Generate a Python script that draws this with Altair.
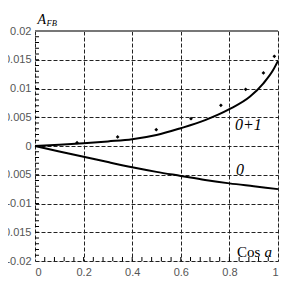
import altair as alt
import pandas as pd

# Curve "0+1"
c01_x = [0.0, 0.1, 0.2, 0.3, 0.4, 0.5, 0.6, 0.7, 0.8, 0.885, 0.94, 0.98, 1.0]
c01_y = [0.0, 0.0002, 0.00047, 0.0008, 0.00117, 0.0019, 0.0031, 0.0045, 0.0064, 0.0086, 0.0109, 0.0132, 0.0148]
# Curve "0"
c0_x = [0.0, 0.1, 0.2, 0.3, 0.4, 0.5, 0.6, 0.7, 0.8, 0.9, 1.0]
c0_y = [0.0, -0.00095, -0.00186, -0.0028, -0.0037, -0.0045, -0.0052, -0.0059, -0.0065, -0.007, -0.0075]
# Data points
pts_x = [0.173, 0.34, 0.499, 0.642, 0.765, 0.867, 0.94, 0.985]
pts_y = [0.00057, 0.00157, 0.00283, 0.00475, 0.00708, 0.00986, 0.0127, 0.0156]

x_ticks = [0, 0.2, 0.4, 0.6, 0.8, 1]
y_ticks = [-0.02, -0.015, -0.01, -0.005, 0, 0.005, 0.01, 0.015, 0.02]
x_minor = [0.04, 0.08, 0.12, 0.16, 0.2, 0.24, 0.28, 0.32, 0.36, 0.4, 0.44, 0.48, 0.52,
           0.56, 0.6, 0.64, 0.68, 0.72, 0.76, 0.8, 0.84, 0.88, 0.92, 0.96]
y_minor = [round(-0.019 + 0.001 * i, 4) for i in range(39)]

W, H = 243, 230

curves = pd.DataFrame({"x": c01_x + c0_x,
                       "y": c01_y + c0_y,
                       "s": ["0+1"] * len(c01_x) + ["0"] * len(c0_x)})
pts = pd.DataFrame({"x": pts_x, "y": pts_y})

xs = alt.Scale(domain=[0, 1], nice=False, zero=False)
ys = alt.Scale(domain=[-0.02, 0.02], nice=False, zero=False)

xax = alt.Axis(values=x_ticks, grid=True, gridDash=[4, 2], gridColor="#222", gridWidth=1,
               ticks=False, domain=False, labelExpr="toString(datum.value)",
               labelFont="Liberation Sans", labelFontSize=11, labelColor="#555",
               labelPadding=5, labelOverlap=False, title=None)
yax = alt.Axis(values=y_ticks, grid=True, gridDash=[4, 2], gridColor="#222", gridWidth=1,
               ticks=False, domain=False, labelExpr="toString(datum.value)",
               labelFont="Liberation Sans", labelFontSize=11, labelColor="#555",
               labelPadding=4, labelOverlap=False, labelBound=False, title=None)

X = lambda: alt.X("x:Q", scale=xs, axis=xax)
Y = lambda: alt.Y("y:Q", scale=ys, axis=yax)

lines = alt.Chart(curves).mark_line(color="black", strokeWidth=2, interpolate="monotone").encode(
    x=X(), y=Y(), detail="s:N")

dots = alt.Chart(pts).mark_point(shape="diamond", filled=True, color="black", size=14, opacity=1).encode(
    x=X(), y=Y())

xm = alt.Chart(pd.DataFrame({"x": x_minor})).mark_rule(color="black", strokeWidth=1).encode(
    x=X(), y=alt.value(H - 4), y2=alt.value(H))
ym = alt.Chart(pd.DataFrame({"y": y_minor})).mark_rule(color="black", strokeWidth=1).encode(
    y=Y(), x=alt.value(0), x2=alt.value(4))

top_border = alt.Chart(pts).mark_rule(color="#777", strokeWidth=2).encode(
    x=alt.value(0), x2=alt.value(W), y=alt.value(0))


def label(txt, px, py, size, style="italic"):
    return alt.Chart(pd.DataFrame({"t": [txt]})).mark_text(
        font="Liberation Serif", fontStyle=style, fontSize=size, align="left",
        baseline="alphabetic", color="black").encode(
        text="t:N", x=alt.value(px), y=alt.value(py))


texts = [
    label("A", 2.5, -7, 14),
    label("FB", 11.5, -5, 8.5),
    label("0+1", 200, 99, 16),
    label("0", 201, 144, 16),
    label("Cos", 202, 225.5, 15, "normal"),
    label("a", 229.5, 225.5, 15),
]

chart = alt.layer(lines, dots, xm, ym, top_border, *texts).properties(
    width=W, height=H, autosize=alt.AutoSizeParams(type="none"),
    padding={"left": 27, "top": 23, "right": 13, "bottom": 20}
).configure_view(stroke="black", strokeWidth=1).configure(background="white")

chart.save("out.html", embed_options={"renderer": "svg", "actions": False})
